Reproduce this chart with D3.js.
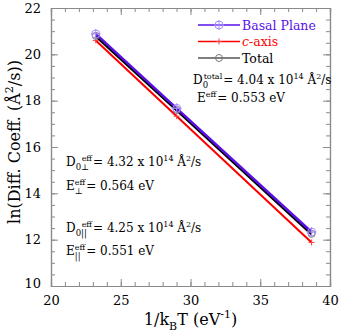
<!DOCTYPE html>
<html lang="en">
<head>
<meta charset="UTF-8">
<script src="https://d3js.org/d3.v7.min.js"></script>
<style>
  body { margin: 0; background: #fff; }
  text { font-family: "DejaVu Serif", serif; }
  .tick text { font-family: "DejaVu Serif", serif; font-size: 13px; fill: #000; }
</style>
</head>
<body>
<div id="chart_area"></div>
<script>
  // data
  var invKT = [23.21, 29.01, 38.68];
  var basal = [20.88, 17.67, 12.33];
  var total = [20.80, 17.60, 12.25];
  var caxis = [20.60, 17.33, 11.88];
  var xTicks = [20, 25, 30, 35, 40];
  var yTicks = [10, 12, 14, 16, 18, 20, 22];

  var margin = { top: 8, right: 9, bottom: 47, left: 51 },
    width = 339 - margin.left - margin.right,
    height = 333 - margin.top - margin.bottom;

  var svg = d3.select("#chart_area").append("svg")
    .attr("width", 339).attr("height", 333)
    .append("g")
    .attr("transform", "translate(" + margin.left + "," + margin.top + ")");

  var x = d3.scaleLinear().domain([20, 40]).range([0, width]);
  var y = d3.scaleLinear().domain([10, 22]).range([height, 0]);

  var minorX = d3.range(20, 40.01, 1), minorY = d3.range(10, 22.01, 0.5);

  var frame = svg.append("g");
  frame.append("g").attr("transform", "translate(0," + height + ")")
    .call(d3.axisBottom(x).tickValues(minorX).tickSize(-4).tickFormat(""));
  frame.append("g").attr("transform", "translate(0," + height + ")")
    .call(d3.axisBottom(x).tickValues(xTicks).tickSize(-7).tickPadding(10).tickFormat(d3.format("d")));
  frame.append("g").call(d3.axisTop(x).tickValues(minorX).tickSize(-4).tickFormat(""));
  frame.append("g").call(d3.axisTop(x).tickValues(xTicks).tickSize(-7).tickFormat(""));
  frame.append("g").call(d3.axisLeft(y).tickValues(minorY).tickSize(-4).tickFormat(""));
  frame.append("g").call(d3.axisLeft(y).tickValues(yTicks).tickSize(-7).tickPadding(10).tickFormat(d3.format("d")));
  frame.append("g").attr("transform", "translate(" + width + ",0)")
    .call(d3.axisRight(y).tickValues(minorY).tickSize(-4).tickFormat(""));
  frame.append("g").attr("transform", "translate(" + width + ",0)")
    .call(d3.axisRight(y).tickValues(yTicks).tickSize(-7).tickFormat(""));
  frame.selectAll(".domain").attr("stroke", "#8a8a8a").attr("stroke-width", 1.2);
  frame.selectAll(".tick line").attr("stroke", "#8a8a8a");
  frame.selectAll(".tick text").filter(function(d) { return d === 10; }).attr("dy", "0.1em");

  function pts(vals) { return invKT.map(function(v, i) { return [v, vals[i]]; }); }
  var line = d3.line().x(function(d) { return x(d[0]); }).y(function(d) { return y(d[1]); });

  var series = [
    { name: "c-axis", vals: caxis, color: "#ff0000", w: 2 },
    { name: "Total", vals: total, color: "#000000", w: 3 },
    { name: "Basal Plane", vals: basal, color: "#5a10e8", w: 2.5 }
  ];
  series.forEach(function(s) {
    svg.append("path").datum(pts(s.vals)).attr("d", line)
      .attr("fill", "none").attr("stroke", s.color).attr("stroke-width", s.w);
  });

  // markers
  function marker(g, name, cx, cy) {
    if (name === "Basal Plane") {
      g.append("circle").attr("cx", cx).attr("cy", cy).attr("r", 4)
        .attr("fill", "none").attr("stroke", "#a58cff").attr("stroke-width", 1);
      g.append("path").attr("d", "M" + (cx - 5) + "," + cy + "H" + (cx + 5) + "M" + cx + "," + (cy - 5) + "V" + (cy + 5))
        .attr("stroke", "#a58cff").attr("stroke-width", 1);
    } else if (name === "c-axis") {
      g.append("path").attr("d", "M" + (cx - 3) + "," + cy + "H" + (cx + 3) + "M" + cx + "," + (cy - 3) + "V" + (cy + 3))
        .attr("stroke", "#ff4040").attr("stroke-width", 1);
    } else {
      g.append("circle").attr("cx", cx).attr("cy", cy).attr("r", 3.5)
        .attr("fill", "none").attr("stroke", "#777").attr("stroke-width", 1);
    }
  }
  var mk = svg.append("g");
  series.forEach(function(s) {
    pts(s.vals).forEach(function(p) { marker(mk, s.name, x(p[0]), y(p[1])); });
  });

  // legend
  var leg = svg.append("g").attr("transform", "translate(147,17)");
  var legItems = [
    { name: "Basal Plane", lc: "#5a10e8", text: "#5a10e8" },
    { name: "c-axis", lc: "#ff0000", text: "#ff0000" },
    { name: "Total", lc: "#555", text: "#000" }
  ];
  legItems.forEach(function(d, i) {
    var gy = i * 16.5;
    leg.append("line").attr("x1", 0).attr("x2", 42).attr("y1", gy).attr("y2", gy)
      .attr("stroke", d.lc).attr("stroke-width", 1.5);
    marker(leg, d.name, 21, gy);
    var t = leg.append("text").attr("x", 44).attr("y", gy + 4.5)
      .style("font-size", "12.5px").attr("fill", d.text);
    if (d.name === "c-axis") {
      t.append("tspan").style("font-style", "italic").text("c");
      t.append("tspan").text("-axis");
    } else {
      t.text(d.name);
    }
  });

  // annotations: base letter, subscript, superscript, then the rest
  function annot(xp, yp, base, sub, sup, supDx, rest, pow) {
    var g = svg.append("g").attr("transform", "translate(" + xp + "," + yp + ")");
    var b = g.append("text").style("font-size", "12px").text(base);
    var bw = b.node().getComputedTextLength();
    var end = bw;
    if (sub) {
      var s = g.append("text").attr("x", bw).attr("y", 4).style("font-size", "8.5px").text(sub);
      end = Math.max(end, bw + s.node().getComputedTextLength());
    }
    var p = g.append("text").attr("x", bw + supDx).attr("y", -5).style("font-size", "8px").text(sup);
    end = Math.max(end, bw + supDx + p.node().getComputedTextLength());
    var t = g.append("text").attr("x", end + 1).style("font-size", "12px");
    t.append("tspan").text(rest);
    if (pow) {
      t.append("tspan").attr("dy", -5).style("font-size", "8px").text("14");
      t.append("tspan").attr("dy", 5).text(" Å");
      t.append("tspan").attr("dy", -5).style("font-size", "8px").text("2");
      t.append("tspan").attr("dy", 5).text("/s");
    }
  }
  annot(142, 76, "D", "0", "total", 1, " = 4.04 x 10", true);
  annot(146, 94, "E", "", "eff", 0, "= 0.553 eV", false);
  annot(15, 158, "D", "0⊥", "eff", 6, " = 4.32 x 10", true);
  annot(15, 182, "E", "⊥", "eff", 0, " = 0.564 eV", false);
  annot(15, 224, "D", "0||", "eff", 6, " = 4.25 x 10", true);
  annot(15, 247, "E", "||", "eff", 0, " = 0.551 eV", false);

  // axis titles
  var xl = svg.append("text").attr("x", width / 2).attr("y", height + 39)
    .attr("text-anchor", "middle").style("font-size", "16px");
  xl.append("tspan").text("1/k");
  xl.append("tspan").attr("dy", 5).style("font-size", "11px").text("B");
  xl.append("tspan").attr("dy", -5).text("T (eV");
  xl.append("tspan").attr("dy", -7).style("font-size", "11px").text("-1");
  xl.append("tspan").attr("dy", 7).text(")");

  var yl = svg.append("text")
    .attr("transform", "translate(" + (-31) + "," + (height / 2 - 5) + ") rotate(-90)")
    .attr("text-anchor", "middle").style("font-size", "16px");
  yl.append("tspan").text("ln(Diff. Coeff. (Å");
  yl.append("tspan").attr("dy", -7).style("font-size", "11px").text("2");
  yl.append("tspan").attr("dy", 7).text("/s))");
</script>
</body>
</html>
